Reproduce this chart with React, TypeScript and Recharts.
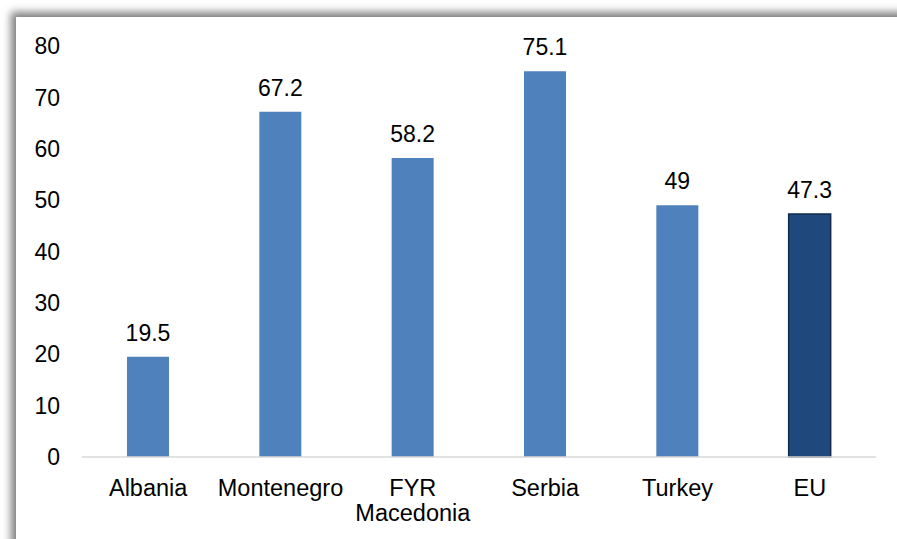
import { BarChart, Bar, XAxis, YAxis, LabelList, Cell } from 'recharts';

const countries = ['Albania', 'Montenegro', 'FYR Macedonia', 'Serbia', 'Turkey', 'EU'];
const values = [19.5, 67.2, 58.2, 75.1, 49, 47.3];
const yTicks = [0, 10, 20, 30, 40, 50, 60, 70, 80];

const data = countries.map((name, i) => ({ name, value: values[i] }));

const FONT = 'Liberation Sans, Arial, sans-serif';
const FS = 23;

// splits long category names onto two lines, like "FYR / Macedonia"
const CountryTick = ({ x, y, payload }: { x: number; y: number; payload: { value: string } }) => {
  const label = payload.value;
  const lines = label.length > 11 ? label.split(' ') : [label];
  return (
    <text x={x} y={y} textAnchor="middle" fill="#000" fontSize={23.5} fontFamily={FONT}>
      {lines.map((line, i) => (
        <tspan key={i} x={x} dy={i === 0 ? 31 : 25}>
          {line}
        </tspan>
      ))}
    </text>
  );
};

export default function App() {
  return (
    <div style={{ position: 'fixed', left: 0, top: 0, width: 897, height: 539, background: '#fff', overflow: 'hidden' }}>
      {/* chart frame with shadow on top and left */}
      <div
        style={{
          position: 'absolute',
          left: 16,
          top: 17,
          width: 920,
          height: 560,
          background: '#fff',
          boxShadow: '-5px -5px 8px rgba(0,0,0,0.5)',
        }}
      />
      <div style={{ position: 'absolute', left: 0, top: 0 }}>
        <BarChart width={897} height={539} data={data} margin={{ top: 46, right: 21, left: 0, bottom: 0 }} barSize={42}>
          <XAxis
            dataKey="name"
            interval={0}
            tickLine={false}
            axisLine={{ stroke: '#d9d9d9', strokeWidth: 1.5 }}
            tick={CountryTick}
            height={82}
          />
          <YAxis
            width={82}
            domain={[0, 80]}
            ticks={yTicks}
            interval={0}
            axisLine={false}
            tickLine={false}
            tickMargin={16}
            tick={{ fill: '#000', fontSize: FS, fontFamily: FONT }}
          />
          <Bar dataKey="value" isAnimationActive={false}>
            {data.map((d) => (
              <Cell
                key={d.name}
                fill={d.name === 'EU' ? '#1f497d' : '#4f81bd'}
                stroke={d.name === 'EU' ? '#0f2a4a' : 'none'}
                strokeWidth={d.name === 'EU' ? 1.5 : 0}
              />
            ))}
            <LabelList dataKey="value" position="top" offset={16} fill="#000" fontSize={FS} fontFamily={FONT} />
          </Bar>
        </BarChart>
      </div>
    </div>
  );
}
